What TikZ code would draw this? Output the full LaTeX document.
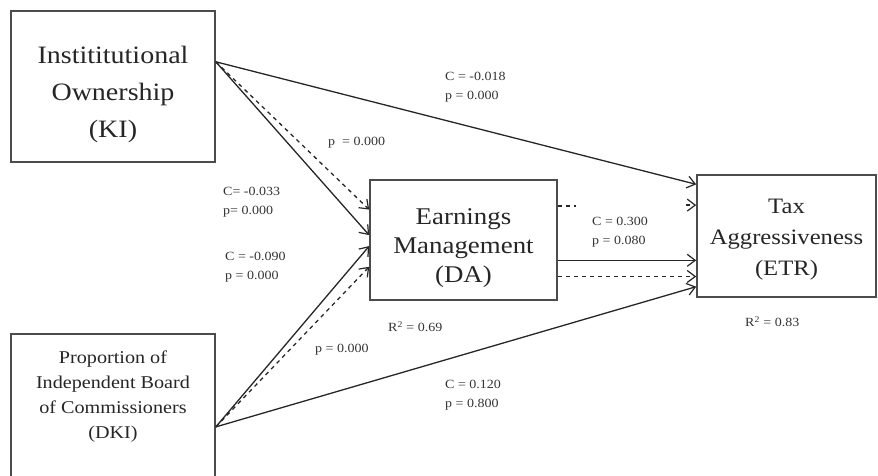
\documentclass[tikz,border=0pt]{standalone}
\usepackage{fontspec}
\setmainfont[FakeStretch=1.12]{Liberation Serif}
\usetikzlibrary{arrows.meta,calc}
\tikzset{
  box/.style={draw=black!70, line width=1.6pt, fill=white, inner sep=0pt},
  boxtext/.style={align=center, inner sep=0pt, text=black!85},
  conn/.style={line width=1.3pt, black!85, -{Straight Barb[length=8pt,width=12pt,line width=1.2pt]}},
  dconn/.style={conn, dash pattern=on 4pt off 4pt},
  lbl/.style={font=\fontsize{12.5}{19}\selectfont, text=black!80, align=left, inner sep=0pt, anchor=west},
}
\begin{document}
\begin{tikzpicture}[x=1pt,y=-1pt]
\useasboundingbox (0,0) rectangle (878,475);
\clip (0,0) rectangle (878,475);

% boxes
\node[box, minimum width=204pt, minimum height=151pt] (KI) at (113,86.5) {};
\node[boxtext, font=\fontsize{25}{37}\selectfont] (KItext) at (113,94)
      {Instititutional\\Ownership\\(KI)};
\node[box, minimum width=187pt, minimum height=120pt] (DA) at (463.5,240) {};
\node[boxtext, font=\fontsize{24}{29}\selectfont] (DAtext) at (463.5,248)
      {Earnings\\Management\\(DA)};
\node[box, minimum width=179pt, minimum height=122pt] (ETR) at (786.5,236) {};
\node[boxtext, font=\fontsize{22}{31}\selectfont] (ETRtext) at (786.5,240)
      {Tax\\Aggressiveness\\(ETR)};
\node[box, minimum width=204pt, minimum height=170pt] (DKI) at (113,419) {};
\node[boxtext, font=\fontsize{18}{25}\selectfont] (DKItext) at (113,397)
      {Proportion of\\Independent Board\\of Commissioners\\(DKI)};

% anchor points on box sides
\coordinate (kiout) at ($(KI.north east)!0.338!(KI.south east)$);
\coordinate (dkiout) at ($(DKI.north east)!0.546!(DKI.south east)$);
\coordinate (daA) at ($(DA.north west)!0.25!(DA.south west)$);
\coordinate (daB) at ($(DA.north west)!0.46!(DA.south west)$);
\coordinate (daC) at ($(DA.north west)!0.55!(DA.south west)$);
\coordinate (daD) at ($(DA.north west)!0.72!(DA.south west)$);
\coordinate (daE1) at ($(DA.north east)!0.22!(DA.south east)$);
\coordinate (daE2) at ($(DA.north east)!0.667!(DA.south east)$);
\coordinate (daE3) at ($(DA.north east)!0.80!(DA.south east)$);
\coordinate (etA) at ($(ETR.north west)!0.082!(ETR.south west)$);
\coordinate (etB) at ($(ETR.north west)!0.25!(ETR.south west)$);
\coordinate (etC) at (ETR.west |- daE2);
\coordinate (etD) at (ETR.west |- daE3);
\coordinate (etE) at ($(ETR.north west)!0.91!(ETR.south west)$);
\coordinate (gapA) at ($(daE1)+(18,0)$);
\coordinate (gapB) at ($(etB)+(-10,0)$);

% connectors
\draw[conn] (kiout) -- (etA);
\draw[conn] (kiout) -- (daB);
\draw[dconn] (kiout) -- (daA);
\draw[conn] (dkiout) -- (daC);
\draw[dconn] (dkiout) -- (daD);
\draw[conn] (dkiout) -- (etE);
\draw[conn] (daE2) -- (etC);
\draw[dconn] (daE3) -- (etD);
\draw[line width=1.3pt, black!85, dash pattern=on 4pt off 4pt] (daE1) -- (gapA);
\draw[dconn] (gapB) -- (etB);

% labels
\node[lbl] (l1) at (445,87) {C = -0.018\\p = 0.000};
\node[lbl] (l2) at (328,143) {p\ \ = 0.000};
\node[lbl] (l3) at (223,202) {C= -0.033\\p= 0.000};
\node[lbl] (l4) at (225,267) {C = -0.090\\p = 0.000};
\node[lbl] (l5) at (315,350) {p = 0.000};
\node[lbl] (l6) at (388,327) {R\textsuperscript{2} = 0.69};
\node[lbl] (l7) at (592,232) {C = 0.300\\p = 0.080};
\node[lbl] (l8) at (745,322) {R\textsuperscript{2} = 0.83};
\node[lbl] (l9) at (445,395) {C = 0.120\\p = 0.800};
\end{tikzpicture}
\end{document}
